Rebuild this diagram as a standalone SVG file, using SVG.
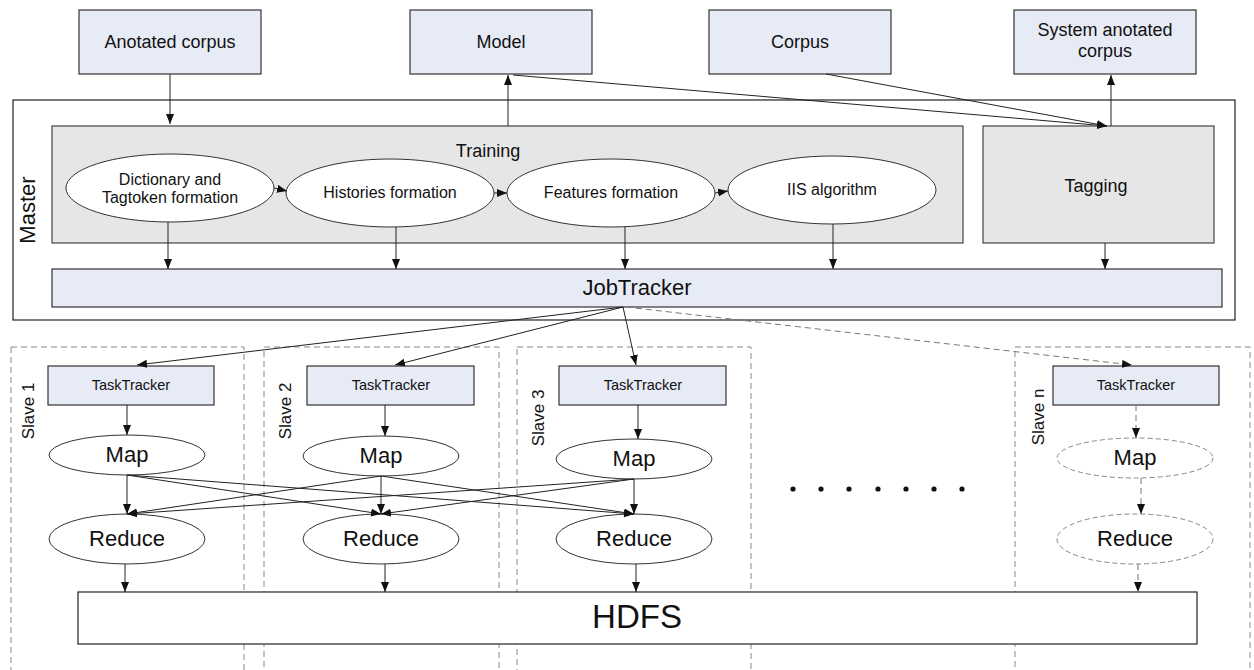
<svg xmlns="http://www.w3.org/2000/svg" width="1254" height="670" viewBox="0 0 1254 670">
<defs>
<marker id="ah" markerUnits="userSpaceOnUse" markerWidth="11" markerHeight="9" refX="10" refY="4" orient="auto"><path d="M0,0 L10,4 L0,8 z" fill="#111"/></marker>
<style>
text{font-family:"Liberation Sans",Arial,sans-serif;fill:#111;text-anchor:middle}
.blue{fill:#E7EBF5;stroke:#333;stroke-width:1.2}
.gray{fill:#E6E6E6;stroke:#444;stroke-width:1.2}
.ell{fill:#fff;stroke:#333;stroke-width:1}
.dell{fill:#fff;stroke:#888;stroke-width:1;stroke-dasharray:5,3}
.slave{fill:none;stroke:#888;stroke-width:1;stroke-dasharray:6,4}
.c{stroke:#222;stroke-width:1;fill:none;marker-end:url(#ah)}
.cd{stroke:#777;stroke-width:1;fill:none;stroke-dasharray:6,4;marker-end:url(#ah)}
</style>
</defs>
<rect width="1254" height="670" fill="#fff"/>
<g id="slave1"><rect class="slave" x="11" y="347" width="233" height="340"/><text transform="translate(34,411) rotate(-90)" font-size="17">Slave 1</text></g>
<g id="slave2"><rect class="slave" x="264" y="347" width="235" height="340"/><text transform="translate(291,411) rotate(-90)" font-size="17">Slave 2</text></g>
<g id="slave3"><rect class="slave" x="517" y="347" width="234" height="340"/><text transform="translate(544,418) rotate(-90)" font-size="17">Slave 3</text></g>
<g id="slaven"><rect class="slave" x="1015" y="347" width="235" height="340"/><text transform="translate(1044,417) rotate(-90)" font-size="17">Slave n</text></g>
<g id="anotated-corpus"><rect class="blue" x="79" y="10" width="182" height="64"/><text x="170" y="48" font-size="18">Anotated corpus</text></g>
<g id="model"><rect class="blue" x="410" y="10" width="182" height="64"/><text x="501" y="48" font-size="18">Model</text></g>
<g id="corpus"><rect class="blue" x="709" y="10" width="182" height="64"/><text x="800" y="48" font-size="18">Corpus</text></g>
<g id="system-anotated-corpus"><rect class="blue" x="1014" y="10" width="182" height="64"/><text x="1105" y="36" font-size="18">System anotated</text><text x="1105" y="57" font-size="18">corpus</text></g>
<g id="master"><rect x="13" y="100" width="1222" height="220" fill="#fff" stroke="#222" stroke-width="1.2"/><text transform="translate(35,210) rotate(-90)" font-size="22">Master</text></g>
<g id="training"><rect class="gray" x="52" y="126" width="911" height="117"/><text x="488" y="157" font-size="18">Training</text></g>
<g id="tagging"><rect class="gray" x="983" y="126" width="231" height="117"/><text x="1096" y="192" font-size="18">Tagging</text></g>
<g id="dictionary"><ellipse class="ell" cx="170" cy="188" rx="104" ry="34"/><text x="170" y="185" font-size="16">Dictionary and</text><text x="170" y="203" font-size="16">Tagtoken formation</text></g>
<g id="histories"><ellipse class="ell" cx="390" cy="193" rx="104" ry="34"/><text x="390" y="198" font-size="16">Histories formation</text></g>
<g id="features"><ellipse class="ell" cx="611" cy="193" rx="104" ry="34"/><text x="611" y="198" font-size="16">Features formation</text></g>
<g id="iis"><ellipse class="ell" cx="832" cy="190" rx="104" ry="34"/><text x="832" y="195" font-size="16">IIS algorithm</text></g>
<g id="jobtracker"><rect class="blue" x="52" y="269" width="1170" height="38"/><text x="637" y="295" font-size="22">JobTracker</text></g>
<g id="tt1"><rect class="blue" x="48" y="366" width="166" height="39"/><text x="131" y="390" font-size="14.5">TaskTracker</text></g>
<g id="tt2"><rect class="blue" x="307" y="366" width="167" height="39"/><text x="391" y="390" font-size="14.5">TaskTracker</text></g>
<g id="tt3"><rect class="blue" x="559" y="366" width="167" height="39"/><text x="643" y="390" font-size="14.5">TaskTracker</text></g>
<g id="ttn"><rect class="blue" x="1053" y="366" width="166" height="39"/><text x="1136" y="390" font-size="14.5">TaskTracker</text></g>
<g id="map1"><ellipse class="ell" cx="127" cy="455" rx="78" ry="20"/><text x="127" y="462" font-size="22">Map</text></g>
<g id="map2"><ellipse class="ell" cx="381" cy="456" rx="78" ry="20"/><text x="381" y="463" font-size="22">Map</text></g>
<g id="map3"><ellipse class="ell" cx="634" cy="459" rx="78" ry="20"/><text x="634" y="466" font-size="22">Map</text></g>
<g id="mapn"><ellipse class="dell" cx="1135" cy="458" rx="78" ry="20"/><text x="1135" y="465" font-size="22">Map</text></g>
<g id="reduce1"><ellipse class="ell" cx="127" cy="539" rx="78" ry="25"/><text x="127" y="546" font-size="22">Reduce</text></g>
<g id="reduce2"><ellipse class="ell" cx="381" cy="539" rx="78" ry="25"/><text x="381" y="546" font-size="22">Reduce</text></g>
<g id="reduce3"><ellipse class="ell" cx="634" cy="539" rx="78" ry="25"/><text x="634" y="546" font-size="22">Reduce</text></g>
<g id="reducen"><ellipse class="dell" cx="1135" cy="539" rx="78" ry="25"/><text x="1135" y="546" font-size="22">Reduce</text></g>
<g id="hdfs"><rect x="78" y="592" width="1119" height="52" fill="#fff" stroke="#222" stroke-width="1.2"/><text x="637" y="628" font-size="33">HDFS</text></g>
<g id="dots" fill="#111"><circle cx="793" cy="489" r="2.6"/><circle cx="821" cy="489" r="2.6"/><circle cx="849" cy="489" r="2.6"/><circle cx="878" cy="489" r="2.6"/><circle cx="906" cy="489" r="2.6"/><circle cx="934" cy="489" r="2.6"/><circle cx="962" cy="489" r="2.6"/></g>
<g id="connectors">
<path class="c" d="M170,74 V124"/>
<path class="c" d="M508,126 V75"/>
<path class="c" d="M1111,126 V75"/>
<path class="c" d="M513,75 L1107,126"/>
<path class="c" d="M826,74 L1107,126"/>
<path class="c" d="M274,188 L287,191"/>
<path class="c" d="M494,193 H507"/>
<path class="c" d="M715,193 L728,191"/>
<path class="c" d="M168,222 V269"/>
<path class="c" d="M396,227 V269"/>
<path class="c" d="M625,227 V269"/>
<path class="c" d="M833,224 V269"/>
<path class="c" d="M1105,243 V269"/>
<path class="c" d="M623,307 L137,365"/>
<path class="c" d="M623,307 L395,365"/>
<path class="c" d="M623,307 L636,365"/>
<path class="cd" d="M626,307 L1132,365"/>
<path class="c" d="M127,405 V435"/>
<path class="c" d="M385,405 V436"/>
<path class="c" d="M638,405 V439"/>
<path class="cd" d="M1136,405 V438"/>
<path class="c" d="M127,475 V514"/>
<path class="c" d="M381,476 V514"/>
<path class="c" d="M634,479 V514"/>
<path class="cd" d="M1141,478 V514"/>
<path class="c" d="M127,475 L381,514"/>
<path class="c" d="M127,475 L634,514"/>
<path class="c" d="M381,476 L127,514"/>
<path class="c" d="M381,476 L634,514"/>
<path class="c" d="M634,479 L127,514"/>
<path class="c" d="M634,479 L381,514"/>
<path class="c" d="M125,564 V592"/>
<path class="c" d="M385,564 V592"/>
<path class="c" d="M636,564 V592"/>
<path class="cd" d="M1138,564 V592"/>
</g>
</svg>
